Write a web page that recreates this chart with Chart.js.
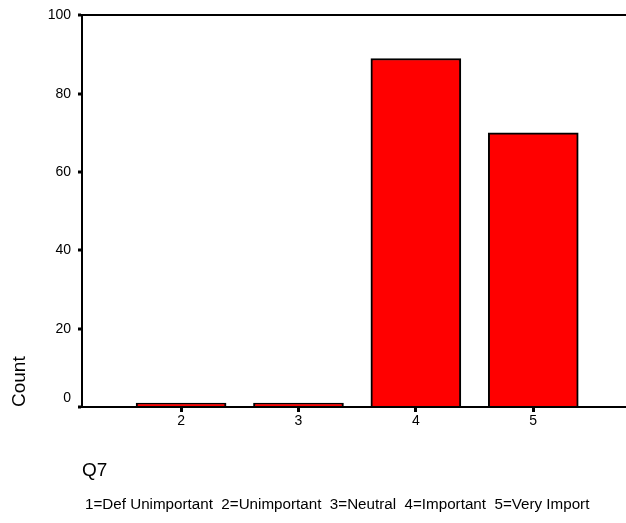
<!DOCTYPE html>
<html lang="en">
<head>
<meta charset="UTF-8">
<title>Q7 Count</title>
<style>
  html, body { margin: 0; padding: 0; background: #fff; }
  #wrap { width: 626px; height: 523px; }
</style>
<script src="https://cdn.jsdelivr.net/npm/chart.js"></script>
</head>
<body>
<div id="wrap"><canvas id="q7Chart" width="626" height="523"></canvas></div>
<script>
// data
const categories = [2, 3, 4, 5];
const counts = [1, 1, 89, 70];
const yTicks = [0, 20, 40, 60, 80, 100];
const valueLegend = '1=Def Unimportant  2=Unimportant  3=Neutral  4=Important  5=Very Import';

Chart.defaults.font.family = '"Liberation Sans", Arial, sans-serif';
Chart.defaults.color = '#000';

// value labels line under the axis title
const valueLegendPlugin = {
  id: 'valueLegend',
  afterDraw(chart) {
    const ctx = chart.ctx;
    ctx.save();
    ctx.font = '15.2px "Liberation Sans", Arial, sans-serif';
    ctx.fillStyle = '#000';
    ctx.textBaseline = 'middle';
    ctx.fillText(valueLegend, chart.chartArea.left + 3, 505);
    ctx.restore();
  }
};

new Chart(document.getElementById('q7Chart'), {
  type: 'bar',
  data: {
    datasets: [{
      data: categories.map((c, i) => ({ x: c, y: counts[i] })),
      backgroundColor: '#ff0000',
      borderColor: '#000',
      borderWidth: 2,
      barThickness: 90
    }]
  },
  options: {
    responsive: false,
    animation: false,
    layout: { padding: { top: 13, right: 0, bottom: 0, left: 0 } },
    plugins: {
      legend: { display: false },
      tooltip: { enabled: false }
    },
    scales: {
      x: {
        type: 'linear',
        min: 1.156,
        max: 5.79,
        offset: false,
        afterBuildTicks: scale => { scale.ticks = categories.map(v => ({ value: v })); },
        afterFit: scale => { scale.height = 116; },
        grid: {
          offset: false,
          color: 'rgba(0,0,0,0)',
          tickColor: '#000',
          tickLength: 5,
          tickWidth: 3
        },
        border: { display: true, color: '#000', width: 2 },
        ticks: { font: { size: 14 }, padding: 1, maxRotation: 0 },
        title: {
          display: true,
          text: 'Q7',
          align: 'start',
          font: { size: 19 },
          padding: { top: 0, bottom: 41 }
        }
      },
      y: {
        min: 0,
        max: 100,
        afterBuildTicks: scale => { scale.ticks = yTicks.map(v => ({ value: v })); },
        afterFit: scale => { scale.width = 82; },
        grid: {
          color: ctx => (ctx.tick && ctx.tick.value === 100 ? '#000' : 'rgba(0,0,0,0)'),
          lineWidth: 2,
          tickColor: '#000',
          tickLength: 4,
          tickWidth: 3
        },
        border: { display: true, color: '#000', width: 2 },
        ticks: {
          font: { size: 14 },
          padding: 7,
          callback: v => (v === 0 ? ['0', ''] : String(v))
        },
        title: {
          display: true,
          text: 'Count',
          align: 'start',
          font: { size: 19 },
          padding: { top: 8, bottom: 0 }
        }
      }
    }
  },
  plugins: [valueLegendPlugin]
});
</script>
</body>
</html>
